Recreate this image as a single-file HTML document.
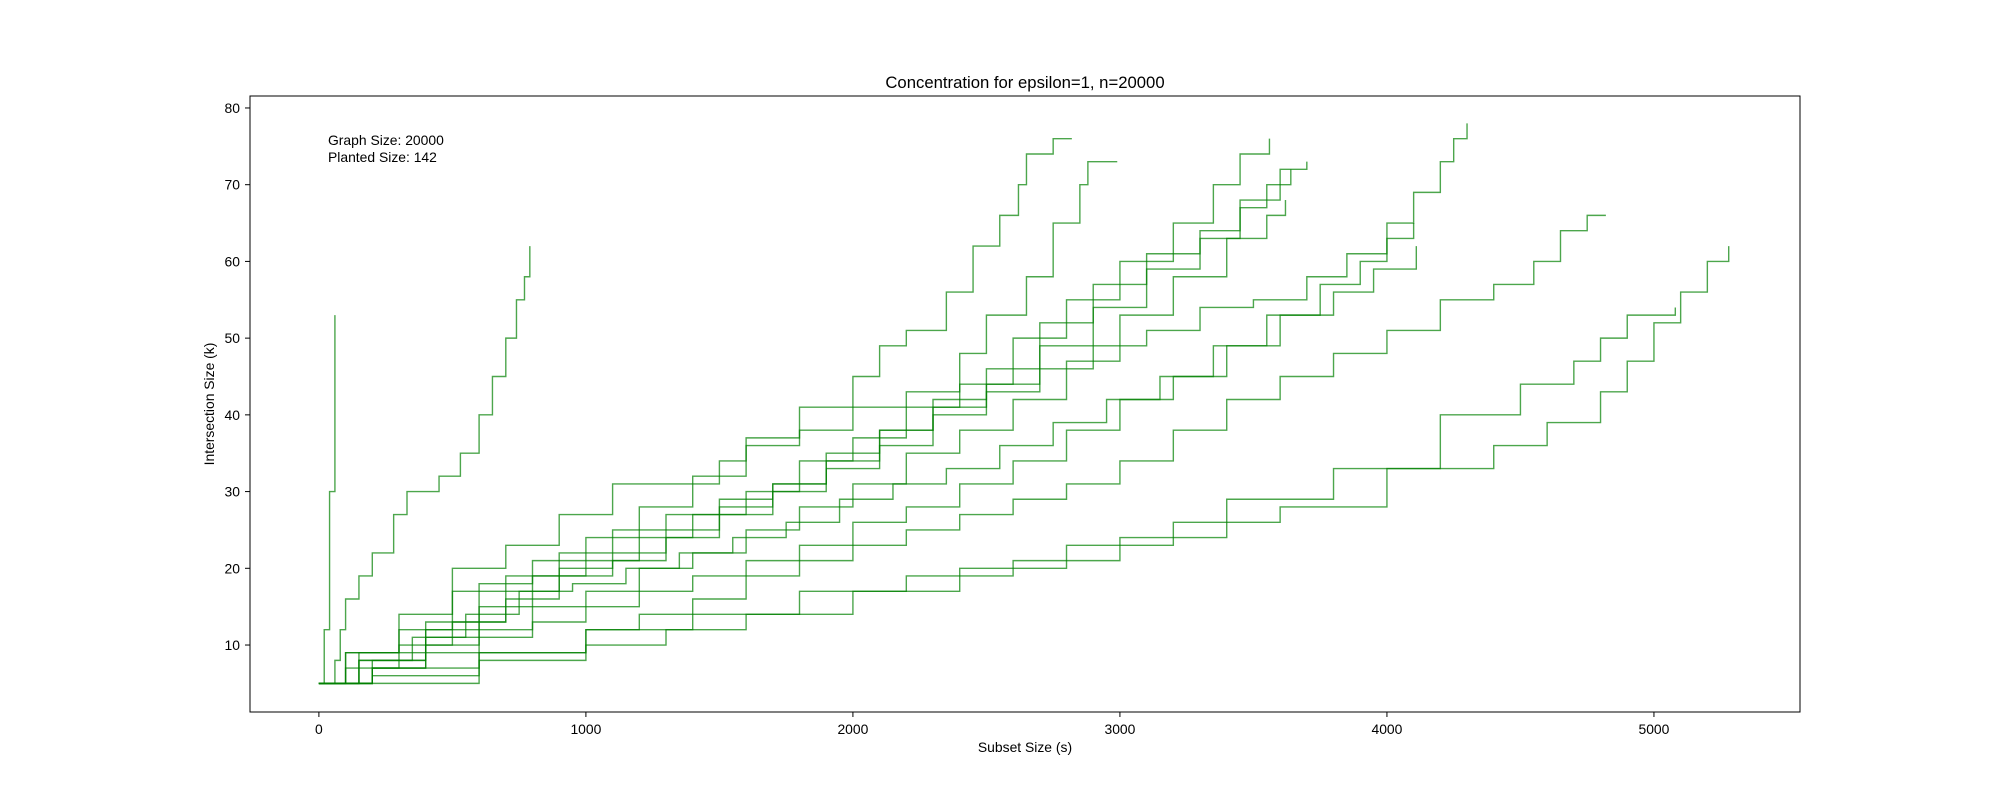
<!DOCTYPE html>
<html><head><meta charset="utf-8">
<style>
body{margin:0;background:#fff;}
svg text{font-family:"Liberation Sans","DejaVu Sans",sans-serif;fill:#000;}
</style></head>
<body>
<svg id="chart" width="2000" height="800" xmlns="http://www.w3.org/2000/svg">
<rect width="2000" height="800" fill="#fff"/>
<g id="lines"></g>
<rect x="250" y="96" width="1550" height="616" fill="none" stroke="#000" stroke-width="1"/>
<g id="xticks"></g>
<g id="yticks"></g>
<text x="1025" y="88" font-size="16.7" text-anchor="middle">Concentration for epsilon=1, n=20000</text>
<text x="1025" y="752" font-size="13.9" text-anchor="middle">Subset Size (s)</text>
<text transform="translate(214,404) rotate(-90)" font-size="13.9" text-anchor="middle">Intersection Size (k)</text>
<text x="328" y="145" font-size="13.9">Graph Size: 20000</text>
<text x="328" y="162" font-size="13.9">Planted Size: 142</text>
</svg>
<script>
const xTicks=[0,1000,2000,3000,4000,5000];
const yTicks=[10,20,30,40,50,60,70,80];
const s1=[[0,5],[20,12],[40,30],[60,53]];
const s2=[[0,5],[60,8],[80,12],[100,16],[150,19],[200,22],[280,27],[330,30],[450,32],[530,35],[600,40],[650,45],[700,50],[740,55],[770,58],[790,62]];
const s3=[[0,5],[100,9],[300,14],[500,20],[700,23],[900,27],[1100,31],[1300,31],[1500,34],[1600,37],[1800,41],[2000,45],[2100,49],[2200,51],[2350,56],[2450,62],[2550,66],[2620,70],[2650,74],[2750,76],[2820,76]];
const s4=[[0,5],[150,8],[400,12],[600,18],[800,21],[1000,24],[1200,28],[1400,32],[1600,36],[1800,38],[2000,41],[2200,43],[2400,48],[2500,53],[2650,58],[2750,65],[2850,70],[2880,73],[2990,73]];
const s5=[[0,5],[200,8],[400,11],[600,15],[800,19],[1000,21],[1200,24],[1400,27],[1600,30],[1800,34],[2000,37],[2200,41],[2400,44],[2600,50],[2800,55],[3000,60],[3200,65],[3350,70],[3450,74],[3560,76]];
const s6=[[0,5],[150,9],[400,13],[700,17],[900,20],[1100,22],[1300,25],[1500,28],[1700,31],[1900,35],[2100,38],[2300,42],[2500,46],[2700,52],[2900,57],[3100,61],[3300,64],[3450,68],[3600,72],[3700,73]];
const s7=[[0,5],[100,7],[300,10],[500,13],[700,16],[900,19],[1100,21],[1300,24],[1500,27],[1700,30],[1900,33],[2100,36],[2300,40],[2500,44],[2700,49],[2900,54],[3100,59],[3300,63],[3450,67],[3550,70],[3640,72]];
const s8=[[0,5],[200,7],[400,10],[600,12],[800,15],[1000,17],[1200,20],[1400,22],[1600,25],[1800,28],[2000,31],[2200,35],[2400,38],[2600,42],[2800,47],[3000,53],[3200,58],[3400,63],[3550,66],[3620,68]];
const s9=[[0,5],[100,9],[300,12],[500,17],[700,19],[900,22],[1100,25],[1300,27],[1500,29],[1700,31],[1900,34],[2100,38],[2300,41],[2500,43],[2700,46],[2900,49],[3100,51],[3300,54],[3500,55],[3700,58],[3850,61],[4000,65],[4100,69],[4200,73],[4250,76],[4300,78]];
const s10=[[0,5],[150,8],[350,11],[550,14],[750,17],[950,18],[1150,20],[1350,22],[1550,24],[1750,26],[1950,29],[2150,31],[2350,33],[2550,36],[2750,39],[2950,42],[3150,45],[3350,49],[3550,53],[3750,57],[3900,60],[4000,63],[4100,65]];
const s11=[[0,5],[200,7],[400,9],[600,11],[800,13],[1000,15],[1200,17],[1400,19],[1600,21],[1800,23],[2000,26],[2200,28],[2400,31],[2600,34],[2800,38],[3000,42],[3200,45],[3400,49],[3600,53],[3800,56],[3950,59],[4110,62]];
const s12=[[0,5],[200,6],[600,9],[1000,12],[1200,14],[1400,16],[1600,19],[1800,21],[2000,23],[2200,25],[2400,27],[2600,29],[2800,31],[3000,34],[3200,38],[3400,42],[3600,45],[3800,48],[4000,51],[4200,55],[4400,57],[4550,60],[4650,64],[4750,66],[4820,66]];
const s13=[[0,5],[300,5],[600,8],[1000,10],[1300,12],[1600,14],[2000,17],[2400,20],[2800,23],[3200,26],[3600,28],[4000,33],[4400,36],[4600,39],[4800,43],[4900,47],[5000,52],[5100,56],[5200,60],[5280,62]];
const s14=[[0,5],[200,7],[600,9],[1000,12],[1400,14],[1800,17],[2200,19],[2600,21],[3000,24],[3400,29],[3800,33],[4200,40],[4500,44],[4700,47],[4800,50],[4900,53],[5080,54]];
const seriesList=[s1,s2,s3,s4,s5,s6,s7,s8,s9,s10,s11,s12,s13,s14];

const X0=-258,X1=5547,Y0=1.27,Y1=81.56;
function xs(v){return 250+(v-X0)/(X1-X0)*1550;}
function ys(v){return 712-(v-Y0)/(Y1-Y0)*616;}
const NS="http://www.w3.org/2000/svg";
const lines=document.getElementById('lines');
seriesList.forEach((s,i)=>{
  let d="M"+xs(s[0][0])+","+ys(s[0][1]);
  for(let j=1;j<s.length;j++){d+=" H"+xs(s[j][0])+" V"+ys(s[j][1]);}
  const p=document.createElementNS(NS,'path');
  p.setAttribute('d',d);p.setAttribute('fill','none');
  p.setAttribute('stroke','green');p.setAttribute('stroke-opacity','0.7');p.setAttribute('stroke-width','1.4');
  
  
  lines.appendChild(p);
});
const xg=document.getElementById('xticks');
xTicks.forEach(t=>{
  const l=document.createElementNS(NS,'line');
  l.setAttribute('x1',xs(t));l.setAttribute('x2',xs(t));l.setAttribute('y1',712);l.setAttribute('y2',717);l.setAttribute('stroke','#000');
  
  
  xg.appendChild(l);
  const tx=document.createElementNS(NS,'text');
  tx.setAttribute('x',xs(t));tx.setAttribute('y',734);tx.setAttribute('font-size','13.9');tx.setAttribute('text-anchor','middle');
  tx.textContent=t;
  
  
  xg.appendChild(tx);
});
const yg=document.getElementById('yticks');
yTicks.forEach(t=>{
  const l=document.createElementNS(NS,'line');
  l.setAttribute('x1',245);l.setAttribute('x2',250);l.setAttribute('y1',ys(t));l.setAttribute('y2',ys(t));l.setAttribute('stroke','#000');
  
  
  yg.appendChild(l);
  const tx=document.createElementNS(NS,'text');
  tx.setAttribute('x',240);tx.setAttribute('y',ys(t)+5);tx.setAttribute('font-size','13.9');tx.setAttribute('text-anchor','end');
  tx.textContent=t;
  
  
  yg.appendChild(tx);
});
</script>
</body></html>
